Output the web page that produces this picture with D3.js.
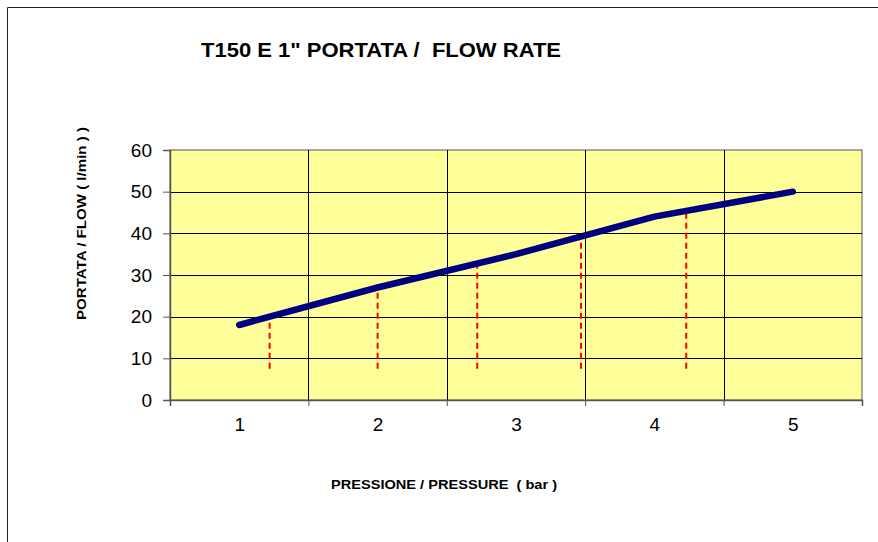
<!DOCTYPE html>
<html>
<head>
<script src="https://cdnjs.cloudflare.com/ajax/libs/d3/7.8.5/d3.min.js"></script>
<style>
  body { margin: 0; background: #fff; }
  text { font-family: "Liberation Sans", Arial, sans-serif; white-space: pre; }
</style>
</head>
<body>
<div id="viz"></div>
<script>
// values
var pressure = [1, 2, 3, 4, 5];
var flow = [18, 27, 35, 44, 50];
var yTicks = [0, 10, 20, 30, 40, 50, 60];
// red dashed markers (x in bar, top and base in l/min)
var dropX = [1.22, 2.0, 2.72, 3.47, 4.23];
var dropTop = [19.4, 25.9, 33.1, 39.6, 46.1];
var dropBase = 7.5;

var W = 878, H = 542;
var plotLeft = 170, plotRight = 862, plotTop = 150, plotBottom = 400;

var svg = d3.select("#viz").append("svg")
    .attr("width", W)
    .attr("height", H);

// outer frame (only top and left visible)
svg.append("path")
    .attr("d", "M7.5," + H + " V7.5 H" + W)
    .attr("fill", "none")
    .attr("stroke", "#222")
    .attr("stroke-width", 1);

var x = d3.scaleLinear().domain([0.5, 5.5]).range([plotLeft, plotRight]);
var y = d3.scaleLinear().domain([0, 60]).range([plotBottom, plotTop]);

// plot area
svg.append("rect")
    .attr("x", plotLeft)
    .attr("y", plotTop)
    .attr("width", plotRight - plotLeft)
    .attr("height", plotBottom - plotTop)
    .attr("fill", "#ffff99")
    .attr("stroke", "#555")
    .attr("stroke-width", 1);

// gridlines
var grid = svg.append("g").attr("stroke", "#000").attr("stroke-width", 1);
yTicks.filter(function(d) { return d > 0 && d < 60; }).forEach(function(d) {
    grid.append("line")
        .attr("x1", plotLeft).attr("x2", plotRight)
        .attr("y1", Math.round(y(d)) + 0.5).attr("y2", Math.round(y(d)) + 0.5);
});
[1.5, 2.5, 3.5, 4.5].forEach(function(d) {
    grid.append("line")
        .attr("x1", Math.round(x(d)) + 0.5).attr("x2", Math.round(x(d)) + 0.5)
        .attr("y1", plotTop).attr("y2", plotBottom);
});

// y axis
var yAxis = svg.append("g")
    .attr("transform", "translate(" + plotLeft + ",0)")
    .call(d3.axisLeft(y).tickValues(yTicks).tickSize(7).tickPadding(11));
yAxis.selectAll("text").attr("font-size", "19px").attr("fill", "#000")
    .style("font-family", "'Liberation Sans', Arial, sans-serif");
yAxis.selectAll("line").attr("stroke", "#555");
yAxis.select(".domain").attr("stroke", "#555").attr("stroke-width", 1.5);

// x axis: ticks at boundaries, labels at category centres
var xAxis = svg.append("g")
    .attr("transform", "translate(0," + plotBottom + ")")
    .call(d3.axisBottom(x).tickValues([0.5, 1.5, 2.5, 3.5, 4.5, 5.5]).tickSize(6).tickFormat(""));
xAxis.selectAll("line").attr("stroke", "#555");
xAxis.select(".domain").attr("stroke", "#555").attr("stroke-width", 1.5);

var xLabels = svg.append("g")
    .attr("transform", "translate(0," + plotBottom + ")")
    .call(d3.axisBottom(x).tickValues(pressure).tickSize(0).tickPadding(18).tickFormat(d3.format("d")));
xLabels.select(".domain").remove();
xLabels.selectAll("text").attr("font-size", "19px").attr("fill", "#000")
    .style("font-family", "'Liberation Sans', Arial, sans-serif");

// red dashed markers
dropX.forEach(function(d, i) {
    svg.append("line")
        .attr("x1", x(d)).attr("x2", x(d))
        .attr("y1", y(dropBase)).attr("y2", y(dropTop[i]))
        .attr("stroke", "#ff0000")
        .attr("stroke-width", 2)
        .attr("stroke-dasharray", "6,4");
});

// flow curve
var line = d3.line()
    .x(function(d, i) { return x(pressure[i]); })
    .y(function(d) { return y(d); });
svg.append("path")
    .datum(flow)
    .attr("d", line)
    .attr("fill", "none")
    .attr("stroke", "#000080")
    .attr("stroke-width", 6.5)
    .attr("stroke-linecap", "round")
    .attr("stroke-linejoin", "round");

// titles
svg.append("text")
    .attr("x", 201)
    .attr("y", 57)
    .attr("font-size", "20px")
    .attr("font-weight", "bold")
    .attr("textLength", 360)
    .attr("lengthAdjust", "spacingAndGlyphs")
    .text("T150 E 1\" PORTATA /  FLOW RATE");

svg.append("text")
    .attr("x", 331)
    .attr("y", 489)
    .attr("font-size", "13.5px")
    .attr("font-weight", "bold")
    .attr("textLength", 226)
    .attr("lengthAdjust", "spacingAndGlyphs")
    .text("PRESSIONE / PRESSURE  ( bar )");

svg.append("text")
    .attr("transform", "translate(86,320) rotate(-90)")
    .attr("font-size", "13.5px")
    .attr("font-weight", "bold")
    .attr("textLength", 193)
    .attr("lengthAdjust", "spacingAndGlyphs")
    .text("PORTATA / FLOW ( l/min ) )");
</script>
</body>
</html>
